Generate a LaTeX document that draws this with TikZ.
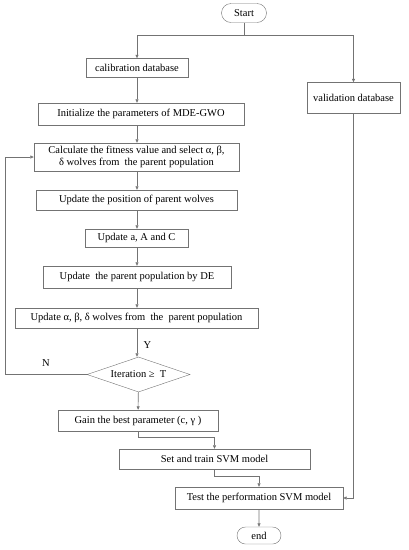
\documentclass[tikz,border=0pt]{standalone}
\usepackage{fontspec}
\setmainfont{Liberation Serif}
\usetikzlibrary{arrows.meta, positioning, shapes.geometric, shapes.misc}

\begin{document}
\begin{tikzpicture}[x=1pt, y=-1pt,
    font=\fontsize{10.5}{12.5}\selectfont,
    box/.style={rectangle, draw=black!55, inner sep=1pt, align=center},
    term/.style={rounded rectangle, draw=black!55, inner sep=1pt},
    cond/.style={diamond, aspect=2.9, draw=black!55, inner sep=0pt},
    line/.style={draw=black!55, line width=0.6pt},
    arr/.style={line, -{Triangle[length=3.5pt, width=3pt]}}]
    \useasboundingbox (0,0) rectangle (408,550);

    \node[term, minimum width=47pt, minimum height=19pt] (start) at (244,13) {Start};
    \node[box, minimum width=102pt, minimum height=19pt] (calib) at (137,68) {calibration database};
    \node[box, minimum width=93pt, minimum height=31pt] (valid) at (353.5,98) {validation database};
    \node[box, minimum width=206pt, minimum height=22pt] (init) at (141,114) {Initialize the parameters of MDE-GWO};
    \node[box, minimum width=205pt, minimum height=28pt] (calc) at (136.5,157)
        {Calculate the fitness value and select α, β,\\ δ wolves from\ \ the parent population};
    \node[box, minimum width=201pt, minimum height=20pt] (pos) at (136.5,200) {Update the position of parent wolves};
    \node[box, minimum width=103pt, minimum height=18pt] (upd) at (136.5,238) {Update a, A and C};
    \node[box, minimum width=188pt, minimum height=22pt] (de) at (137,277) {Update\ \ the parent population by DE};
    \node[box, minimum width=243pt, minimum height=20pt] (abd) at (136.5,318) {Update α, β, δ wolves from\ \ the\ \ parent population};
    \node[cond, minimum width=103pt, minimum height=35pt] (iter) at (138.5,374.5) {Iteration ≥\ \ T};
    \node[box, minimum width=160pt, minimum height=21pt] (gain) at (138,420.5) {Gain the best parameter (c, γ )};
    \node[box, minimum width=191pt, minimum height=20pt] (svm) at (214.5,459) {Set and train SVM model};
    \node[box, minimum width=168pt, minimum height=22pt] (test) at (259,498) {Test the performation SVM model};
    \node[term, minimum width=46pt, minimum height=17pt] (end) at (259,535.5) {end};

    \coordinate (split) at (244,35);
    \coordinate (back) at (5,374.5);

    % start splits to both databases
    \draw[line] (start) -- (split);
    \draw[arr] (split) -| (calib.north);
    \draw[arr] (split) -| (valid.north);

    % main column
    \draw[arr] (calib) -- (calib.south |- init.north);
    \draw[arr] (calib.south |- init.south) -- (calib.south |- calc.north);
    \draw[arr] (calib.south |- calc.south) -- (calib.south |- pos.north);
    \draw[arr] (calib.south |- pos.south) -- (calib.south |- upd.north);
    \draw[arr] (calib.south |- upd.south) -- (calib.south |- de.north);
    \draw[arr] (calib.south |- de.south) -- (calib.south |- abd.north);
    \draw[arr] (calib.south |- abd.south) -- node[right=3pt, pos=0.6] {Y} (iter.north -| calib.south);
    \draw[arr] (iter) -- (gain);

    % loop back
    \draw[line] (iter.west) -- node[above=4pt, pos=0.5] {N} (back);
    \draw[arr] (back) |- (calc.west);

    % to the model
    \draw[arr] (gain.south) -- ++(0,6) -| (svm.north);
    \draw[arr] (svm.south) -- ++(0,7) -| (test.north);
    \draw[arr] (valid.south) |- (test.east);
    \draw[arr] (test) -- (end);
\end{tikzpicture}
\end{document}
